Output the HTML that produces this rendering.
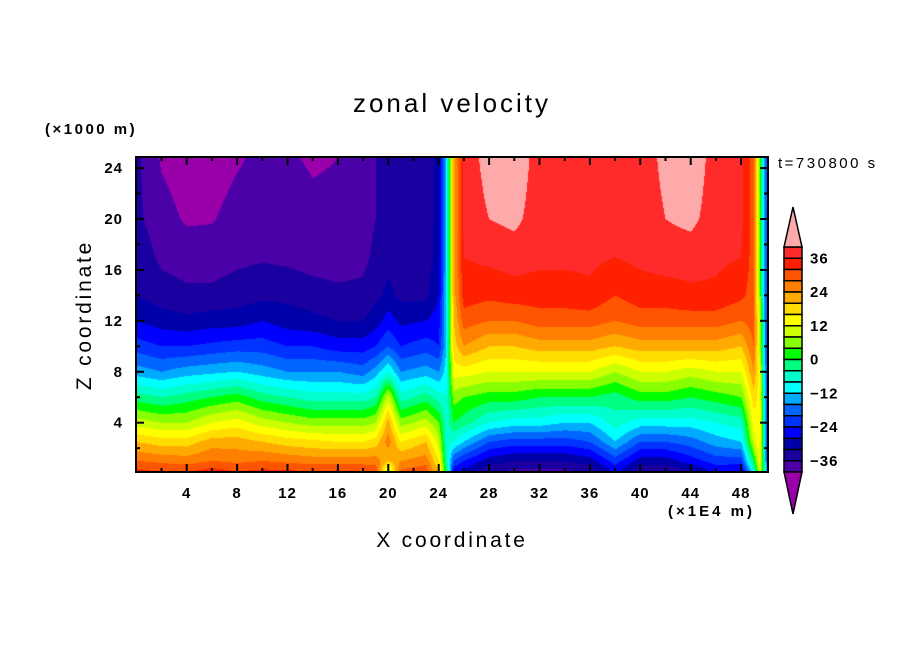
<!DOCTYPE html>
<html><head><meta charset="utf-8"><style>
body{margin:0;background:#fff;width:904px;height:654px;overflow:hidden;position:relative;font-family:"Liberation Sans",sans-serif}
#plot{position:absolute;left:136px;top:157px}
svg{position:absolute;left:0;top:0}
</style></head><body>
<canvas id="plot" width="632" height="315"></canvas>
<svg id="svg" width="904" height="654"></svg>
<script>
const levels=[-40,-36,-32,-28,-24,-20,-16,-12,-8,-4,0,4,8,12,16,20,24,28,32,36,40];
const levelColors=["#9900aa","#4b00a8","#1a00a0","#0000aa","#0000ff","#0033ff","#0066ff","#00aaff","#00ffff","#00ffcc","#00ff80","#00ff00","#88ff00","#ccff00","#ffff00","#ffdd00","#ffaa00","#ff7f00","#ff5500","#ff2000","#ff2a2a","#ffaaaa"];
const xTicks=[4,8,12,16,20,24,28,32,36,40,44,48];
const yTicks=[4,8,12,16,20,24];
const cbLabels=[36,24,12,0,-12,-24,-36];
const gridZ=[0,1,2.5,4,6,8,10,12,14,17,20,24.8];
const gridX=[0,2,4,6,8,10,12,14,16,18,19,20,21,23,24,24.6,25.2,26,28,30,32,34,36,38,40,42,44,46,48,49,49.5,50];
const c00=[34,28,20,10,-2,-14,-22,-28,-32,-33,-35,-35];
const c02=[33,27,18,8,-4,-16,-24,-30,-34,-37,-38.5,-40.5];
const c04=[33,26,18,8,-2,-14,-24,-31,-35,-38,-40.5,-42];
const c06=[35,28,22,12,0,-13,-23,-30,-35,-38,-40.3,-42];
const c08=[33,27,22,14,2,-12,-22,-30,-34,-37,-38.5,-40.5];
const c10=[34,28,20,10,-2,-14,-22,-28,-33,-36.5,-38,-39];
const c12=[34,27,18,8,-4,-16,-24,-30,-33,-37,-38,-39.5];
const c14=[33,26,17,6,-6,-16,-24,-31,-34,-38,-39,-40.5];
const c16=[34,26,16,6,-6,-16,-26,-32,-35,-38,-39,-40];
const c18=[33,26,16,6,-6,-18,-26,-32,-35,-37,-38,-39];
const c19=[32,26,18,8,-4,-14,-24,-30,-33,-35,-36,-36];
const c20=[5,20,26,22,10,-8,-20,-26,-31,-33,-34,-34];
const c21=[30,24,16,6,-6,-16,-24,-29,-33,-34,-35,-35];
const c23=[32,26,20,10,-2,-14,-22,-28,-33,-34,-35,-35];
const c24=[20,16,10,4,-6,-16,-24,-26,-28,-30,-30,-30];
const c246=[0,-4,-6,-6,-8,-10,-12,-12,-12,-12,-12,-12];
const c252=[-28,-20,-8,0,6,14,18,20,22,22,22,22];
const c26=[-30,-24,-12,-2,4,14,24,30,34,36,37,37];
const c28=[-36,-30,-20,-8,2,12,20,28,33,37,40,42];
const c30=[-38,-32,-22,-10,2,12,20,28,34,38,41,43];
const c32=[-38,-32,-22,-10,0,12,22,30,34,37,38,38];
const c34=[-38,-32,-22,-12,0,12,22,30,34,37,37,38];
const c36=[-36,-30,-20,-12,0,12,22,30,35,37,37,38];
const c38=[-28,-22,-12,-6,-2,8,20,28,32,36,38,38];
const c40=[-36,-30,-20,-10,2,12,22,30,34,37,38,38];
const c42=[-36,-30,-20,-10,2,12,22,30,34,38,40,41];
const c44=[-34,-26,-18,-10,0,10,22,30,35,38,41,43];
const c46=[-28,-22,-14,-8,2,12,22,30,35,37,38,38];
const c48=[-30,-22,-12,-6,4,12,20,28,33,36,37,37];
const c49=[-10,0,10,14,18,24,28,30,30,30,30,30];
const c495=[10,14,16,16,14,12,10,8,6,4,2,2];
const c50=[-14,-16,-18,-20,-20,-20,-20,-20,-20,-20,-20,-20];
const columns=[c00,c02,c04,c06,c08,c10,c12,c14,c16,c18,c19,c20,c21,c23,c24,c246,c252,c26,c28,c30,c32,c34,c36,c38,c40,c42,c44,c46,c48,c49,c495,c50];

const X0=136.3,PXU=12.6,Z0=473.6,PZU=12.73;
const sx=v=>X0+v*PXU, sz=v=>Z0-v*PZU;
function seg(arr,v){let i=0;while(i<arr.length-2&&v>arr[i+1])i++;const t=Math.max(0,Math.min(1,(v-arr[i])/(arr[i+1]-arr[i])));return [i,t];}
function field(x,z){const [i,tx]=seg(gridX,x);const [j,tz]=seg(gridZ,z);
const a=columns[i],b=columns[i+1];
const va=a[j]*(1-tz)+a[j+1]*tz, vb=b[j]*(1-tz)+b[j+1]*tz;return va*(1-tx)+vb*tx;}
function colorOf(v){let k=0;while(k<levels.length&&v>=levels[k])k++;return levelColors[k];}
const cv=document.getElementById('plot'),ctx=cv.getContext('2d');
for(let py=0;py<315;py++){const z=(Z0-(157+py+0.5))/PZU;
 for(let px=0;px<632;px++){const x=(136+px+0.5-X0)/PXU;ctx.fillStyle=colorOf(field(x,z));ctx.fillRect(px,py,1,1);}}

const S=document.getElementById('svg'),NS='http://www.w3.org/2000/svg';
function mk(t,a,txt){const e=document.createElementNS(NS,t);for(const k in a)e.setAttribute(k,a[k]);if(txt!==undefined)e.textContent=txt;S.appendChild(e);return e;}
let e;
e=mk('rect',{x:136,y:157,width:632,height:315,fill:'none',stroke:'#000','stroke-width':2});

for(let v=2;v<50;v+=2){const L=(v%4===0)?8:4;const x=sx(v);
 e=mk('line',{x1:x,x2:x,y1:472,y2:472-L,stroke:'#000','stroke-width':2});
 
 e=mk('line',{x1:x,x2:x,y1:157,y2:157+L,stroke:'#000','stroke-width':2});
 }
for(let v=2;v<=24;v+=2){const L=(v%4===0)?8:4;const y=sz(v);
 e=mk('line',{x1:136,x2:136+L,y1:y,y2:y,stroke:'#000','stroke-width':2});
 
 e=mk('line',{x1:768,x2:768-L,y1:y,y2:y,stroke:'#000','stroke-width':2});
 }
xTicks.forEach(v=>{e=mk('text',{x:sx(v),y:498,'text-anchor':'middle','font-size':15,'font-weight':'bold','letter-spacing':1},String(v));
 });
yTicks.forEach(v=>{e=mk('text',{x:123,y:sz(v)+5,'text-anchor':'end','font-size':15,'font-weight':'bold','letter-spacing':1},String(v));
 });
e=mk('text',{x:452,y:112,'text-anchor':'middle','font-size':26,'letter-spacing':'3'},'zonal velocity');

e=mk('text',{x:45,y:134,'font-size':15,'font-weight':'bold','letter-spacing':'2.5'},'(×1000 m)');

e=mk('text',{x:452,y:547,'text-anchor':'middle','font-size':21,'letter-spacing':'2.8'},'X coordinate');

e=mk('text',{x:91,y:315,'text-anchor':'middle','font-size':21,'letter-spacing':'2.8',transform:'rotate(-90 91 315)'},'Z coordinate');

e=mk('text',{x:668,y:516,'font-size':15,'font-weight':'bold','letter-spacing':'3'},'(×1E4 m)');

e=mk('text',{x:778,y:168,'font-size':15,'letter-spacing':'2.5'},'t=730800 s');

const CBX=784,CBW=18,CBTOP=247,BH=11.25,NB=levels.length-1;
const cbY=v=>CBTOP+(40-v)/4*BH;
for(let k=0;k<NB;k++){const hi=levels[NB-k],lo=levels[NB-k-1];
 e=mk('rect',{x:CBX,y:cbY(hi),width:CBW,height:BH,fill:levelColors[levels.indexOf(lo)+1],stroke:'#000','stroke-width':1.5});
 }
e=mk('polygon',{points:`${CBX},${CBTOP} ${CBX+CBW/2},${CBTOP-40} ${CBX+CBW},${CBTOP}`,fill:levelColors[levelColors.length-1],stroke:'#000','stroke-width':1.5});

const bot=cbY(-40);
e=mk('polygon',{points:`${CBX},${bot} ${CBX+CBW/2},${bot+42} ${CBX+CBW},${bot}`,fill:levelColors[0],stroke:'#000','stroke-width':1.5});

cbLabels.forEach(v=>{e=mk('text',{x:810,y:cbY(v)+5,'font-size':15,'font-weight':'bold','letter-spacing':1},(v<0?'−':'')+Math.abs(v));
 });
</script>
</body></html>
